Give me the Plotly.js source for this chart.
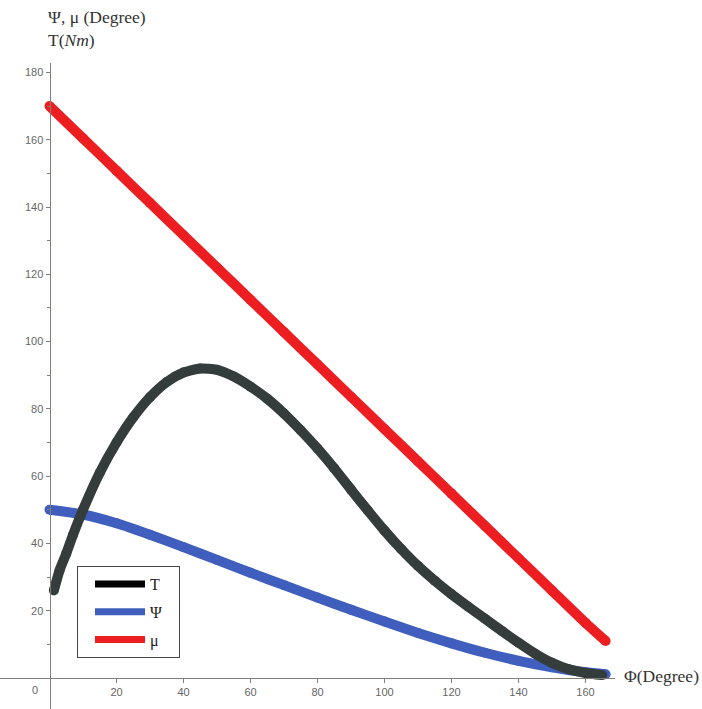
<!DOCTYPE html>
<html>
<head>
<meta charset="utf-8">
<script src="https://cdn.plot.ly/plotly-3.0.1.min.js"></script>
<style>html,body{margin:0;padding:0;background:#fff;}#chart{width:702px;height:709px;}</style>
</head>
<body>
<div id="chart"></div>
<script>
// Data
const seriesNames = ["T", "Ψ", "μ"];
const phiT = [1.3, 3, 5, 7, 10, 15, 20, 25, 30, 35, 40, 45, 50, 55, 60, 65, 70, 75, 80, 85, 90, 95, 100, 105, 110, 115, 120, 125, 130, 135, 140, 145, 150, 155, 160, 165];
const torque = [26, 32, 37, 42.5, 50, 61, 70, 77.5, 83.5, 88, 90.8, 92, 91.6, 89.6, 86.6, 83, 78.6, 73.6, 68.2, 62.3, 56, 49.8, 43.8, 38.3, 33.3, 28.9, 24.9, 21.2, 17.6, 14, 10.5, 7.2, 4.5, 2.6, 1.5, 0.9];
const phiAng = [0, 10, 20, 30, 40, 50, 60, 70, 80, 90, 100, 110, 120, 130, 140, 150, 160, 166];
const psi = [50, 48.6, 46, 42.6, 38.9, 35.1, 31.3, 27.6, 23.9, 20.3, 16.8, 13.4, 10.3, 7.5, 5.1, 3.2, 1.7, 1.1];
const mu = [170, 160.4, 150.8, 141.2, 131.6, 122, 112.4, 102.8, 93.2, 83.6, 74, 64.4, 54.8, 45.2, 35.6, 26, 16.4, 11];
const xTickVals = [20, 40, 60, 80, 100, 120, 140, 160];
const yTickVals = [20, 40, 60, 80, 100, 120, 140, 160, 180];
const yMinorVals = [10, 30, 50, 70, 90, 110, 130, 150, 170];

const colT = "rgb(52,60,60)";
const colPsi = "rgb(64,94,190)";
const colMu = "rgb(236,30,34)";

function dataTrace(x, y, color) {
  return {
    x: x, y: y, type: "scatter", mode: "lines+markers",
    line: {color: color, width: 10, shape: "spline", smoothing: 0.6},
    marker: {color: color, size: 10},
    showlegend: false, hoverinfo: "skip"
  };
}
function legendTrace(name, color) {
  return {
    x: [null], y: [null], type: "scatter", mode: "lines",
    name: name + "\u00a0\u00a0\u00a0",
    legendgroup: name,
    line: {color: color, width: 7}, showlegend: true, hoverinfo: "skip"
  };
}

const traces = [
  dataTrace(phiAng, psi, colPsi),
  dataTrace(phiT, torque, colT),
  dataTrace(phiAng, mu, colMu),
  legendTrace(seriesNames[0], "#000"),
  legendTrace(seriesNames[1], colPsi),
  legendTrace(seriesNames[2], colMu)
];

const W = 702, H = 709;
const axisCol = "#857d76";
const tickFont = {family: "Liberation Sans, Arial, sans-serif", size: 11, color: "#666"};
const serif = "Liberation Serif, Times New Roman, serif";

const layout = {
  width: W, height: H,
  margin: {l: 0, r: 0, t: 0, b: 0, pad: 0},
  paper_bgcolor: "#fff", plot_bgcolor: "#fff",
  showlegend: true,
  xaxis: {
    domain: [0, 615 / W],
    range: [-14.78, 168.8],
    anchor: "free", position: 1 - 678 / H,
    showgrid: false, zeroline: false,
    showline: true, linecolor: axisCol, linewidth: 1,
    tickmode: "array", tickvals: xTickVals,
    ticks: "outside", ticklen: 4, tickcolor: axisCol,
    tickfont: tickFont, fixedrange: true
  },
  yaxis: {
    domain: [0, 1 - 63 / H],
    range: [-9.21, 182.8],
    anchor: "free", position: 49.5 / W,
    showgrid: false, zeroline: false,
    showline: true, linecolor: axisCol, linewidth: 1,
    tickmode: "array", tickvals: yTickVals,
    ticks: "outside", ticklen: 4, tickcolor: axisCol,
    minor: {tickmode: "array", tickvals: yMinorVals, ticks: "outside", ticklen: 3, tickcolor: axisCol},
    tickfont: tickFont, fixedrange: true
  },
  legend: {
    x: 77 / W, y: 1 - 566 / H, xanchor: "left", yanchor: "top",
    bgcolor: "#fff", bordercolor: "#444", borderwidth: 1,
    font: {family: serif, size: 16, color: "#222"},
    itemwidth: 50, indentation: 12,
    traceorder: "grouped", tracegroupgap: 4
  },
  annotations: [
    {xref: "paper", yref: "paper", x: 46 / W, y: 1 - 5 / H, xanchor: "left", yanchor: "top",
     align: "left", showarrow: false,
     text: "Ψ, μ (Degree)<br>T(<i>Nm</i>)",
     font: {family: serif, size: 17.5, color: "#333"}},
    {xref: "paper", yref: "paper", x: 622 / W, y: 1 - 676 / H, xanchor: "left", yanchor: "middle",
     showarrow: false, text: "Φ(Degree)",
     font: {family: serif, size: 17.5, color: "#333"}},
    {xref: "paper", yref: "paper", x: 35 / W, y: 1 - 690 / H, xanchor: "center", yanchor: "middle",
     showarrow: false, text: "0", font: tickFont}
  ]
};

Plotly.newPlot("chart", traces, layout, {displayModeBar: false, staticPlot: true});
</script>
</body>
</html>
